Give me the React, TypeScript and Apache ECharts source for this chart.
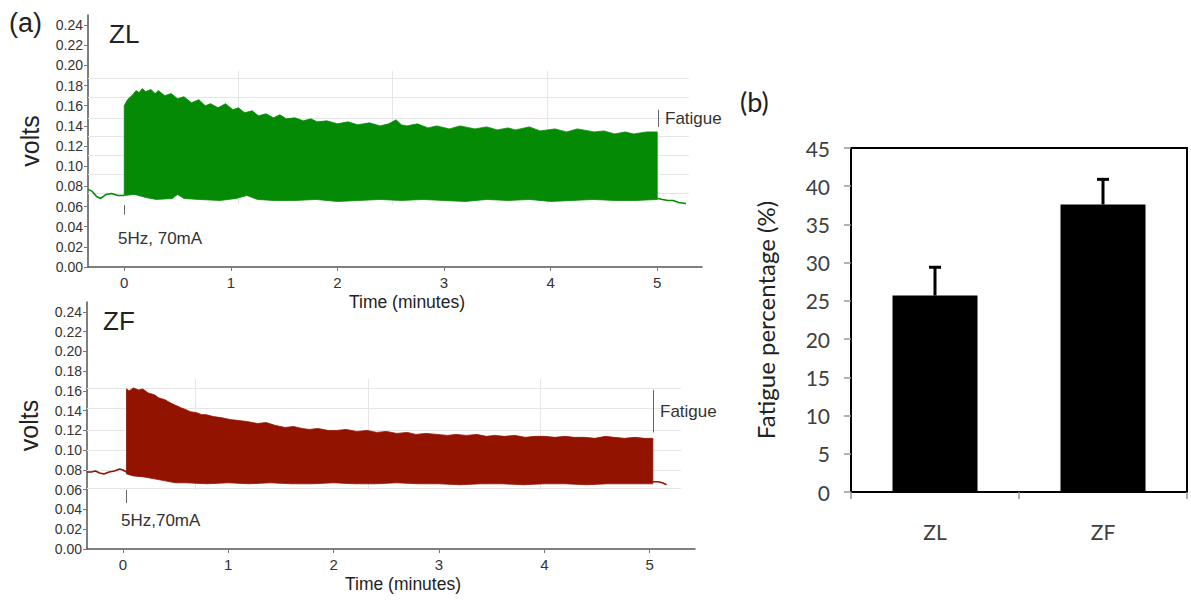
import React, { useEffect, useRef } from "react";
import * as echarts from "echarts";

// ---------- data ----------
const timeTicks = [0, 1, 2, 3, 4, 5];
const voltTicks = [0, 0.02, 0.04, 0.06, 0.08, 0.1, 0.12, 0.14, 0.16, 0.18, 0.2, 0.22, 0.24];

// ZL trace (minutes, volts)
const zlPre = [[-0.34, 0.077], [-0.3, 0.075], [-0.26, 0.07], [-0.22, 0.068], [-0.17, 0.072], [-0.12, 0.073], [-0.06, 0.071], [0, 0.071]];
const zlUpper = [
  [0, 0.16], [0.03, 0.166], [0.08, 0.171], [0.11, 0.175], [0.14, 0.173], [0.17, 0.177], [0.2, 0.174], [0.25, 0.176], [0.29, 0.172], [0.32, 0.175], [0.38, 0.17],
  [0.44, 0.172], [0.5, 0.167], [0.56, 0.169], [0.63, 0.163], [0.7, 0.166], [0.76, 0.16], [0.81, 0.162], [0.88, 0.158],
  [0.95, 0.162], [1.02, 0.156], [1.07, 0.158], [1.13, 0.153], [1.2, 0.155], [1.26, 0.15], [1.33, 0.152], [1.4, 0.148],
  [1.46, 0.151], [1.52, 0.147], [1.6, 0.148], [1.68, 0.145], [1.75, 0.147], [1.81, 0.144], [1.9, 0.145], [2.0, 0.142],
  [2.1, 0.144], [2.19, 0.141], [2.3, 0.143], [2.4, 0.14], [2.48, 0.142], [2.55, 0.146], [2.6, 0.141], [2.65, 0.14], [2.75, 0.142],
  [2.85, 0.138], [2.93, 0.14], [3.05, 0.137], [3.15, 0.14], [3.29, 0.137], [3.4, 0.139], [3.5, 0.136], [3.6, 0.138],
  [3.67, 0.136], [3.8, 0.139], [3.9, 0.135], [4.04, 0.137], [4.15, 0.134], [4.25, 0.137], [4.41, 0.134], [4.5, 0.135],
  [4.6, 0.132], [4.7, 0.134], [4.78, 0.132], [4.9, 0.134], [5.0, 0.134],
];
const zlLower = [
  [0, 0.071], [0.1, 0.072], [0.2, 0.069], [0.3, 0.067], [0.45, 0.068], [0.5, 0.072], [0.56, 0.068], [0.7, 0.067],
  [0.9, 0.066], [1.05, 0.068], [1.15, 0.071], [1.25, 0.067], [1.4, 0.066], [1.6, 0.066], [1.8, 0.067], [2.0, 0.065],
  [2.2, 0.066], [2.4, 0.067], [2.6, 0.066], [2.8, 0.067], [3.0, 0.066], [3.2, 0.065], [3.4, 0.067], [3.6, 0.066],
  [3.8, 0.067], [4.0, 0.065], [4.2, 0.066], [4.4, 0.067], [4.6, 0.066], [4.8, 0.066], [5.0, 0.067],
];
const zlPost = [[5.0, 0.068], [5.05, 0.067], [5.1, 0.066], [5.15, 0.066], [5.2, 0.064], [5.27, 0.063]];

// ZF trace (minutes, volts)
const zfPre = [[-0.34, 0.078], [-0.3, 0.078], [-0.26, 0.079], [-0.22, 0.077], [-0.18, 0.076], [-0.13, 0.078], [-0.08, 0.079], [-0.03, 0.081], [0, 0.08], [0.035, 0.078]];
const zfUpper = [
  [0.035, 0.162], [0.06, 0.16], [0.1, 0.163], [0.15, 0.161], [0.19, 0.162], [0.24, 0.158], [0.3, 0.156], [0.34, 0.153],
  [0.4, 0.151], [0.45, 0.148], [0.49, 0.146], [0.55, 0.143], [0.6, 0.141], [0.64, 0.139], [0.7, 0.138], [0.75, 0.136],
  [0.79, 0.136], [0.86, 0.134], [0.93, 0.133], [1.02, 0.131], [1.1, 0.13], [1.18, 0.129], [1.28, 0.127], [1.36, 0.128],
  [1.45, 0.125], [1.54, 0.123], [1.62, 0.124], [1.7, 0.122], [1.77, 0.121], [1.85, 0.122], [1.95, 0.12], [2.03, 0.12],
  [2.12, 0.121], [2.22, 0.119], [2.32, 0.12], [2.41, 0.118], [2.5, 0.119], [2.6, 0.117], [2.7, 0.118], [2.78, 0.116],
  [2.88, 0.117], [2.98, 0.116], [3.08, 0.115], [3.16, 0.116], [3.26, 0.115], [3.36, 0.116], [3.45, 0.114], [3.53, 0.115],
  [3.62, 0.114], [3.72, 0.115], [3.82, 0.113], [3.91, 0.114], [4.0, 0.114], [4.1, 0.113], [4.2, 0.114], [4.28, 0.113],
  [4.38, 0.113], [4.48, 0.112], [4.58, 0.114], [4.66, 0.113], [4.76, 0.112], [4.86, 0.113], [4.95, 0.112], [5.03, 0.112],
];
const zfLower = [
  [0.035, 0.076], [0.1, 0.074], [0.2, 0.073], [0.3, 0.071], [0.4, 0.069], [0.5, 0.067], [0.6, 0.067], [0.8, 0.066],
  [1.0, 0.067], [1.2, 0.066], [1.4, 0.067], [1.6, 0.066], [1.8, 0.066], [2.0, 0.067], [2.2, 0.066], [2.4, 0.066],
  [2.6, 0.067], [2.8, 0.066], [3.0, 0.066], [3.2, 0.065], [3.4, 0.066], [3.6, 0.066], [3.8, 0.065], [4.0, 0.066],
  [4.2, 0.066], [4.4, 0.065], [4.6, 0.066], [4.8, 0.066], [5.03, 0.066],
];
const zfPost = [[5.03, 0.068], [5.08, 0.068], [5.12, 0.067], [5.16, 0.065]];

// faint recorder grid
const zlGridV = [0.187, 0.168, 0.148, 0.13, 0.111, 0.092, 0.073];
const zlGridT = [1.07, 2.51, 3.97];
const zfGridV = [0.163, 0.142, 0.1205, 0.1, 0.08, 0.061];
const zfGridT = [0.69, 2.33, 3.96];

// markers
const zlStim = { t: 0, from: 0.0615, to: 0.052 };
const zlFatigue = { t: 5.01, from: 0.156, to: 0.139 };
const zfStim = { t: 0.03, from: 0.0597, to: 0.0466 };
const zfFatigue = { t: 5.03, from: 0.161, to: 0.118 };

// bar chart (b)
const groups = ["ZL", "ZF"];
const fatigueMean = [25.7, 37.6];
const fatigueErr = [3.7, 3.3];

const GREEN = "#058a05";
const RED = "#921300";
const ARIAL = "Liberation Sans, Arial, sans-serif";
const CAL = "Lato, Carlito, sans-serif";

function band(upper: number[][], lower: number[][], color: string, idx: number) {
  return {
    type: "custom",
    xAxisIndex: idx,
    yAxisIndex: idx,
    silent: true,
    clip: true,
    z: 3,
    data: [upper[0]],
    renderItem: (_p: any, api: any) => {
      const pts = upper.map((p) => api.coord(p)).concat(lower.slice().reverse().map((p) => api.coord(p)));
      return { type: "polygon", shape: { points: pts }, style: { fill: color, stroke: color, lineWidth: 0.8 } };
    },
  };
}

function trace(data: number[][], color: string, idx: number) {
  return {
    type: "line",
    xAxisIndex: idx,
    yAxisIndex: idx,
    data,
    symbol: "none",
    silent: true,
    z: 3,
    lineStyle: { color, width: 1.6 },
  };
}

function gridSeries(vals: number[], times: number[], idx: number, tEnd: number, vLo: number, vHi: number) {
  const data: any[] = [];
  vals.forEach((v) => data.push([{ coord: [-0.34, v] }, { coord: [tEnd, v] }]));
  times.forEach((t) => data.push([{ coord: [t, vLo] }, { coord: [t, vHi] }]));
  return {
    type: "line",
    xAxisIndex: idx,
    yAxisIndex: idx,
    data: [],
    z: 1,
    markLine: {
      z: 1,
      silent: true,
      symbol: ["none", "none"],
      label: { show: false },
      lineStyle: { color: "#e6e6e6", width: 1, type: "solid" },
      data,
    },
  };
}

function markerSeries(items: { t: number; from: number; to: number }[], idx: number) {
  return {
    type: "line",
    xAxisIndex: idx,
    yAxisIndex: idx,
    data: [],
    z: 4,
    markLine: {
      z: 6,
      silent: true,
      symbol: ["none", "none"],
      label: { show: false },
      lineStyle: { color: "#666", width: 1, type: "solid" },
      data: items.map((m) => [{ coord: [m.t, m.from] }, { coord: [m.t, m.to] }]),
    },
  };
}

function timeAxis(idx: number, max: number) {
  return {
    gridIndex: idx,
    type: "value",
    min: -0.34,
    max,
    axisLine: { show: true, onZero: false, lineStyle: { color: "#555", width: 1.5 } },
    axisTick: { show: true, customValues: timeTicks, length: 4, lineStyle: { color: "#777" } },
    axisLabel: { customValues: timeTicks, formatter: (v: number) => String(Math.round(v)), color: "#333", fontSize: 15, margin: 8, fontFamily: ARIAL },
    splitLine: { show: false },
    name: "Time (minutes)",
    nameLocation: "middle",
    nameGap: 26,
    nameTextStyle: { color: "#222", fontSize: 17.5, fontFamily: ARIAL, padding: [0, 0, 0, 24] },
  };
}

function voltAxis(idx: number) {
  return {
    gridIndex: idx,
    type: "value",
    min: 0,
    max: 0.25,
    axisLine: { show: true, onZero: false, lineStyle: { color: "#555", width: 1.5 } },
    axisTick: { show: true, customValues: voltTicks, length: 4, lineStyle: { color: "#777" } },
    axisLabel: { customValues: voltTicks, formatter: (v: number) => v.toFixed(2), color: "#333", fontSize: 14, margin: 5, fontFamily: ARIAL },
    splitLine: { show: false },
    name: "volts",
    nameLocation: "middle",
    nameRotate: 90,
    nameGap: 46,
    nameTextStyle: { color: "#222", fontSize: 25, fontFamily: ARIAL },
  };
}

export default function App() {
  const ref = useRef<HTMLDivElement>(null);
  useEffect(() => {
    if (!ref.current) return;
    const chart = echarts.init(ref.current, undefined, { renderer: "svg" });
    const txt = (text: string, x: number, y: number, size: number, family = ARIAL, color = "#222") => ({
      type: "text",
      x,
      y,
      z: 20,
      style: { text, fontSize: size, fontFamily: family, fill: color, textVerticalAlign: "middle" },
    });
    chart.setOption({
      animation: false,
      grid: [
        { left: 88, top: 15, width: 614, height: 252 },
        { left: 87, top: 302, width: 608, height: 247 },
        { left: 851, top: 148, width: 336, height: 344, show: true, borderColor: "#000", borderWidth: 2, backgroundColor: "transparent" },
      ],
      xAxis: [
        timeAxis(0, 5.42),
        timeAxis(1, 5.43),
        {
          gridIndex: 2,
          type: "category",
          data: groups,
          axisLine: { show: true, lineStyle: { color: "#000", width: 2 } },
          axisTick: { show: true, length: 7, lineStyle: { color: "#999", width: 1.5 } },
          axisLabel: { color: "#404040", fontSize: 21, margin: 29, fontFamily: CAL },
        },
      ],
      yAxis: [
        voltAxis(0),
        voltAxis(1),
        {
          gridIndex: 2,
          type: "value",
          min: 0,
          max: 45,
          interval: 5,
          axisLine: { show: true, lineStyle: { color: "#000", width: 2 } },
          axisTick: { show: true, length: 7, lineStyle: { color: "#999", width: 1.5 } },
          axisLabel: { color: "#404040", fontSize: 21, margin: 21, fontFamily: CAL },
          splitLine: { show: false },
          name: "Fatigue percentage (%)",
          nameLocation: "middle",
          nameRotate: 90,
          nameGap: 74,
          nameTextStyle: { color: "#222", fontSize: 24, fontFamily: CAL },
        },
      ],
      series: [
        gridSeries(zlGridV, zlGridT, 0, 5.3, 0.062, 0.195),
        gridSeries(zfGridV, zfGridT, 1, 5.3, 0.06, 0.172),
        trace(zlPre, GREEN, 0),
        band(zlUpper, zlLower, GREEN, 0),
        trace(zlPost, GREEN, 0),
        markerSeries([zlStim, zlFatigue], 0),
        trace(zfPre, RED, 1),
        band(zfUpper, zfLower, RED, 1),
        trace(zfPost, RED, 1),
        markerSeries([zfStim, zfFatigue], 1),
        {
          type: "bar",
          xAxisIndex: 2,
          yAxisIndex: 2,
          data: fatigueMean,
          barWidth: 85,
          itemStyle: { color: "#000" },
          silent: true,
        },
        {
          type: "custom",
          xAxisIndex: 2,
          yAxisIndex: 2,
          silent: true,
          z: 5,
          data: fatigueMean.map((m, i) => [i, m, m + fatigueErr[i]]),
          encode: { x: 0, y: [1, 2] },
          renderItem: (_p: any, api: any) => {
            const a = api.coord([api.value(0), api.value(1)]);
            const b = api.coord([api.value(0), api.value(2)]);
            const st = { stroke: "#000", lineWidth: 3 };
            return {
              type: "group",
              children: [
                { type: "line", shape: { x1: a[0], y1: a[1], x2: b[0], y2: b[1] }, style: st },
                { type: "line", shape: { x1: b[0] - 6, y1: b[1], x2: b[0] + 6, y2: b[1] }, style: st },
              ],
            };
          },
        },
      ],
      graphic: [
        txt("(a)", 9, 23, 27),
        txt("ZL", 109, 34, 26),
        txt("ZF", 103, 321, 26),
        txt("5Hz, 70mA", 118, 238, 17, ARIAL, "#333"),
        txt("5Hz,70mA", 121, 520, 17, ARIAL, "#333"),
        txt("Fatigue", 665, 118, 17, ARIAL, "#333"),
        txt("Fatigue", 660, 411, 17, ARIAL, "#333"),
        txt("(b)", 740, 101, 27, CAL, "#222"),
      ],
    });
    return () => chart.dispose();
  }, []);
  return <div ref={ref} style={{ position: "absolute", left: 0, top: 0, width: 1191, height: 601, background: "#fff" }} />;
}
